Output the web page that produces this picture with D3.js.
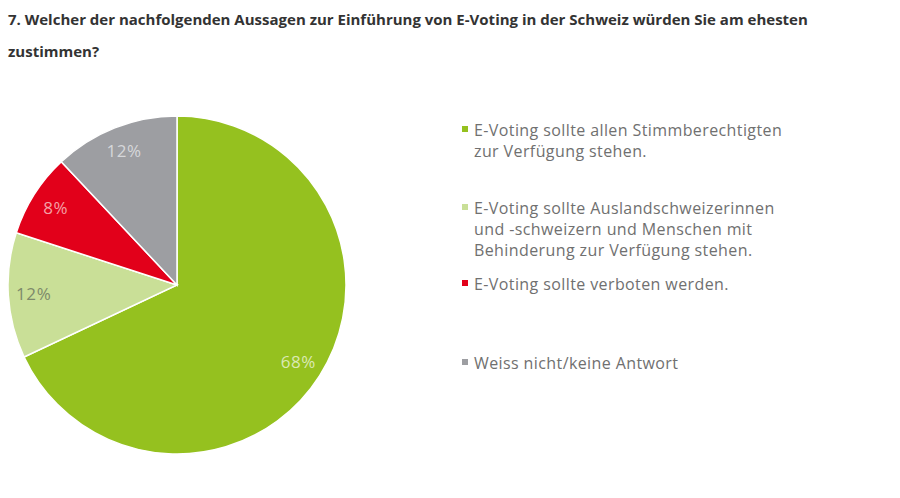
<!DOCTYPE html>
<html>
<head>
<meta charset="utf-8">
<script src="https://cdn.jsdelivr.net/npm/d3@7"></script>
<style>
  body { margin: 0; background: #fff; }
</style>
</head>
<body>
<div id="canvas"></div>
<script>
// Chart size
var w = 900;
var h = 498;

// Data
var titleLines = [
    "7. Welcher der nachfolgenden Aussagen zur Einführung von E-Voting in der Schweiz würden Sie am ehesten",
    "zustimmen?"
];
var categories = [
    ["E-Voting sollte allen Stimmberechtigten", "zur Verfügung stehen."],
    ["E-Voting sollte Auslandschweizerinnen", "und -schweizern und Menschen mit", "Behinderung zur Verfügung stehen."],
    ["E-Voting sollte verboten werden."],
    ["Weiss nicht/keine Antwort"]
];
var values = [68, 12, 8, 12];
var sliceColors = ["#95c11f", "#c9df97", "#e2001a", "#9d9ea2"];
var labelColors = ["#dbe9b4", "#7d8a6a", "#f4a0a6", "#d6d7da"];

// Create the SVG canvas
var svg = d3.select("#canvas")
    .append("svg")
    .attr("width", w)
    .attr("height", h)
    .style("background-color", "#fff");

// Title
svg.append("g")
    .selectAll("text")
    .data(titleLines)
    .join("text")
    .attr("x", 8)
    .attr("y", (d, i) => 25 + i * 32)
    .style("font-family", "'Open Sans', sans-serif")
    .style("font-weight", "bold")
    .style("font-size", "15px")
    .attr("fill", "#333")
    .text(d => d);

// Pie
var cx = 177, cy = 285, r = 169;
var pie = d3.pie().sort(null).value(d => d);
var arc = d3.arc().innerRadius(0).outerRadius(r);
var labelArc = d3.arc().innerRadius(r * 0.85).outerRadius(r * 0.85);

var g = svg.append("g").attr("transform", `translate(${cx},${cy})`);
var arcs = pie(values);

g.selectAll("path")
    .data(arcs)
    .join("path")
    .attr("d", arc)
    .attr("fill", (d, i) => sliceColors[i])
    .attr("stroke", "#fff")
    .attr("stroke-width", 1.5);

g.selectAll("text")
    .data(arcs)
    .join("text")
    .attr("transform", d => `translate(${labelArc.centroid(d)})`)
    .attr("text-anchor", "middle")
    .attr("dy", "0.35em")
    .style("font-family", "'Open Sans', sans-serif")
    .style("font-size", "17px")
    .style("letter-spacing", "0.6px")
    .attr("fill", (d, i) => labelColors[i])
    .text(d => d.data + "%");

// Legend
var legendTop = [130, 208, 284, 363];
var legend = svg.append("g");
var items = legend.selectAll("g")
    .data(categories)
    .join("g")
    .attr("transform", (d, i) => `translate(462,${legendTop[i]})`);

items.append("rect")
    .attr("x", 0)
    .attr("y", -4)
    .attr("width", 6)
    .attr("height", 6)
    .attr("fill", (d, i) => sliceColors[i]);

items.selectAll("text")
    .data(d => d)
    .join("text")
    .attr("x", 12)
    .attr("y", (d, i) => i * 21)
    .attr("dy", "0.35em")
    .style("font-family", "'Open Sans', sans-serif")
    .style("font-size", "16px")
    .style("letter-spacing", "0.4px")
    .attr("fill", "#707070")
    .text(d => d);
</script>
</body>
</html>
